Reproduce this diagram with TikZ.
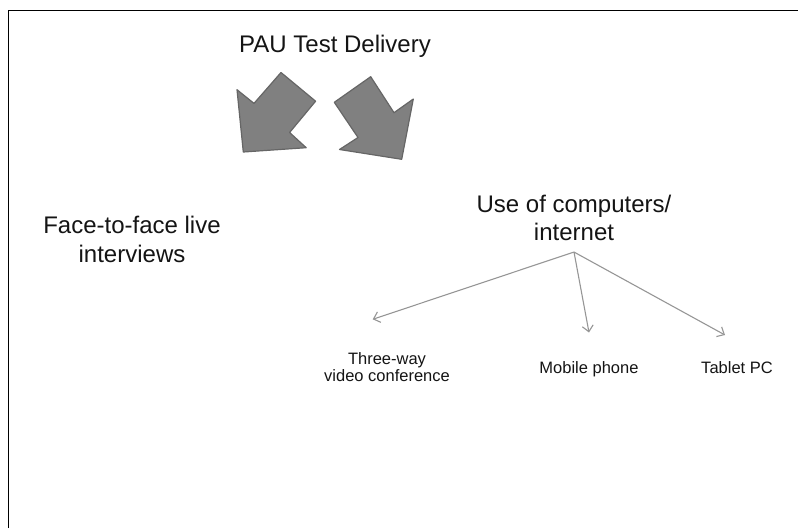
\documentclass[tikz,border=0pt]{standalone}
\usepackage{fontspec}
\setmainfont{Liberation Sans}
\usetikzlibrary{arrows.meta, positioning}
\definecolor{blockgray}{RGB}{128,128,128}
\definecolor{blockedge}{RGB}{102,102,102}
\definecolor{linkgray}{RGB}{150,150,150}
\definecolor{textblack}{RGB}{20,20,20}

\begin{document}
\begin{tikzpicture}[x=1pt, y=-1pt,
    bigtext/.style={inner sep=0pt, align=center, text=textblack, font=\fontsize{24}{28}\selectfont},
    smalltext/.style={inner sep=0pt, align=center, text=textblack, font=\fontsize{16.5}{17.5}\selectfont},
    bigarrow/.style={fill=blockgray, draw=blockedge, line width=1.2pt, line join=round},
    arrow/.style={-{Straight Barb[length=6pt, width=11pt]}, line width=1.1pt, color=linkgray}
]
\useasboundingbox (0,0) rectangle (798,528);
\draw[line width=1.5pt] (8.5,528) -- (8.5,10.5) -- (798,10.5);
\node[bigtext, anchor=base] (delivery) at (335,52) {PAU Test Delivery};
\filldraw[bigarrow] (281,72.5) -- (315.6,101.2) -- (289.6,132.5) -- (306.2,147.7) -- (243.3,152) -- (237,89.7) -- (254,103.4) -- cycle;
\filldraw[bigarrow] (370.7,76.7) -- (394,112.7) -- (413.3,99) -- (401.7,159.3) -- (339.5,149.5) -- (358,137.5) -- (334.3,102.3) -- cycle;
\node[bigtext, anchor=north, font=\fontsize{24}{29}\selectfont] (live) at (132,216) {Face-to-face live\\interviews};
\node[bigtext, anchor=north, inner ysep=11pt] (computers) at (574,184) {Use of computers/\\internet};
\node[smalltext, anchor=north] (video) at (387,352) {Three-way\\video conference};
\node[smalltext, anchor=base] (mobile) at (589,373) {Mobile phone};
\node[smalltext, anchor=base] (tablet) at (737,373) {Tablet PC};
\coordinate (tovideo) at (372.7,319.3);
\coordinate (tomobile) at (589,332.5);
\coordinate (totablet) at (725,335);
\draw[arrow] (computers.south) -- (tovideo);
\draw[arrow] (computers.south) -- (tomobile);
\draw[arrow] (computers.south) -- (totablet);
\end{tikzpicture}
\end{document}
